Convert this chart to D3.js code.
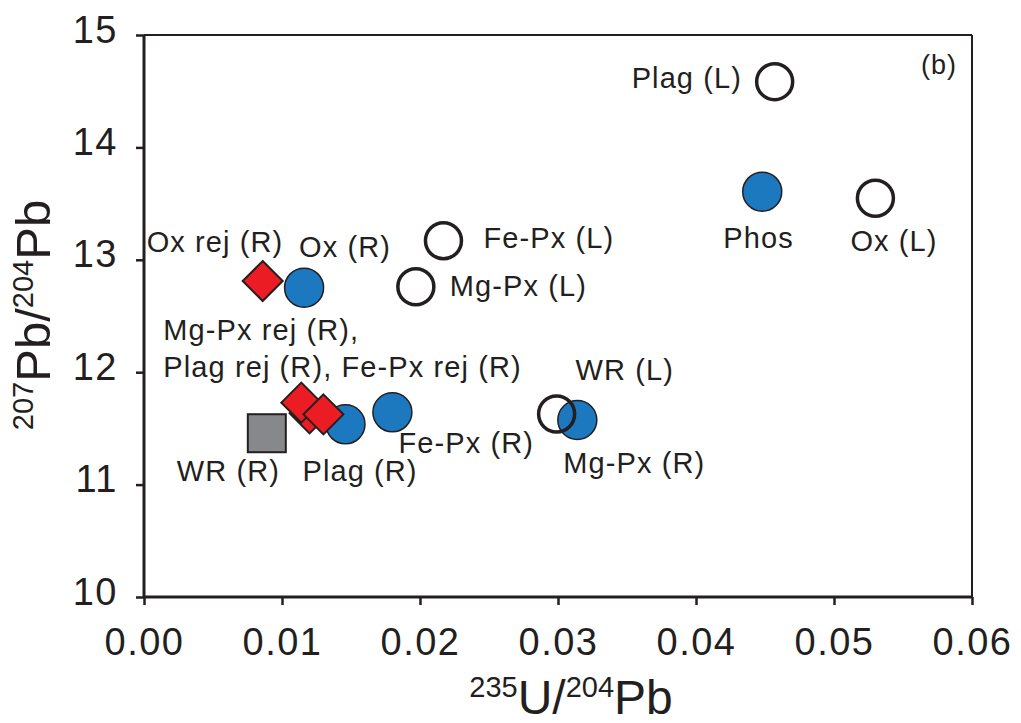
<!DOCTYPE html>
<html>
<head>
<meta charset="utf-8">
<script src="https://cdn.jsdelivr.net/npm/d3@7"></script>
<style>
  html, body { margin: 0; padding: 0; background: #fff; }
  svg { display: block; font-family: "Liberation Sans", Arial, Helvetica, sans-serif; }
</style>
</head>
<body>
<svg id="chart" width="1021" height="723"></svg>
<script>
// ---- data ----
const xTicks = [0.00, 0.01, 0.02, 0.03, 0.04, 0.05, 0.06];
const yTicks = [10, 11, 12, 13, 14, 15];

// Leachates (L): open circles
const leachNames = ["Plag (L)", "Ox (L)", "Fe-Px (L)", "Mg-Px (L)", "WR (L)"];
const leachX = [0.0457, 0.0530, 0.0217, 0.0197, 0.0299];
const leachY = [14.585, 13.547, 13.170, 12.761, 11.628];

// Residues (R) and Phos: blue filled circles
const resNames = ["Phos", "Ox (R)", "Fe-Px (R)", "Plag (R)", "Mg-Px (R)"];
const resX = [0.0448, 0.0116, 0.0180, 0.0146, 0.0314];
const resY = [13.606, 12.752, 11.643, 11.536, 11.575];

// Rejected residues: red diamonds (draw order: back to front)
const rejNames = ["Fe-Px rej (R)", "Ox rej (R)", "Mg-Px rej (R)", "Plag rej (R)"];
const rejX = [0.0120, 0.0086, 0.0114, 0.0130];
const rejY = [11.634, 12.811, 11.729, 11.625];

// Whole rock residue: grey square
const wrNames = ["WR (R)"];
const wrX = [0.0089];
const wrY = [11.457];

// Text labels: text, attached point (x,y data), pixel offset of text start/baseline
const labelText = ["Plag (L)", "Ox (L)", "Fe-Px (L)", "Mg-Px (L)", "WR (L)",
  "Phos", "Ox (R)", "Fe-Px (R)", "Plag (R)", "Mg-Px (R)",
  "Ox rej (R)", "Mg-Px rej (R),", "Plag rej (R), Fe-Px rej (R)", "WR (R)"];
const labelX = [0.0457, 0.0530, 0.0217, 0.0197, 0.0299,
  0.0448, 0.0116, 0.0180, 0.0146, 0.0314,
  0.0086, 0.0114, 0.0114, 0.0089];
const labelY = [14.585, 13.547, 13.170, 12.761, 11.628,
  13.606, 12.752, 11.643, 11.536, 11.575,
  12.811, 11.729, 11.729, 11.457];
const labelDx = [-143, -25, 40, 34, 19, -39, -5, 6, -43, -14, -116, -138, -138, -90];
const labelDy = [6, 53, 7, 9, -34, 56, -31, 41, 57, 53, -29, -63, -26, 48];

// ---- chart ----
const svg = d3.select("#chart");
const x = d3.scaleLinear().domain([0, 0.06]).range([144, 972]);
const y = d3.scaleLinear().domain([10, 15]).range([597, 35]);
const ink = "#231f20";

// frame (top & right thinner)
svg.append("line").attr("x1", x(0)).attr("x2", x(0.06)).attr("y1", y(15)).attr("y2", y(15))
  .attr("stroke", ink).attr("stroke-width", 2);
svg.append("line").attr("x1", x(0.06)).attr("x2", x(0.06)).attr("y1", y(15)).attr("y2", y(10))
  .attr("stroke", ink).attr("stroke-width", 2);

// axes
const xAxis = d3.axisBottom(x).tickValues(xTicks).tickSize(8).tickPadding(20).tickFormat(d3.format(".2f"));
const yAxis = d3.axisLeft(y).tickValues(yTicks).tickSize(8).tickPadding(19).tickFormat(d3.format("d"));

const gx = svg.append("g").attr("transform", `translate(0,${y(10)})`).call(xAxis);
const gy = svg.append("g").attr("transform", `translate(${x(0)},0)`).call(yAxis);
[gx, gy].forEach(g => {
  g.select(".domain").attr("stroke", ink).attr("stroke-width", 3);
  g.selectAll(".tick line").attr("stroke", ink).attr("stroke-width", 2.5);
  g.selectAll(".tick text").attr("fill", ink).style("font-size", "38px").style("letter-spacing", "1.5px")
    .style("font-family", "'Liberation Sans', Arial, sans-serif");
});
gx.select(".domain").attr("d", `M${x(0)},0H${x(0.06)}`);
gy.select(".domain").attr("d", `M0,${y(10)}V${y(15)}`);
gx.selectAll(".tick text").attr("dy", "0.71em").attr("y", 31);
gy.selectAll(".tick text").attr("dy", "0").attr("y", 7).attr("x", -26);

// axis titles
const xt = svg.append("text").attr("x", 571).attr("y", 714).attr("text-anchor", "middle")
  .attr("fill", ink).style("font-size", "48px");
xt.append("tspan").text("235").style("font-size", "29px").attr("dy", "-17");
xt.append("tspan").text("U/").attr("dy", "17");
xt.append("tspan").text("204").style("font-size", "29px").attr("dy", "-17");
xt.append("tspan").text("Pb").attr("dy", "17");

const yt = svg.append("text").attr("transform", "translate(50,315) rotate(-90)").attr("text-anchor", "middle")
  .attr("fill", ink).style("font-size", "49px");
yt.append("tspan").text("207").style("font-size", "29px").attr("dy", "-17");
yt.append("tspan").text("Pb/").attr("dy", "17");
yt.append("tspan").text("204").style("font-size", "29px").attr("dy", "-17");
yt.append("tspan").text("Pb").attr("dy", "17");

// panel label
svg.append("text").attr("x", 921).attr("y", 74).attr("fill", ink)
  .style("font-size", "27px").style("letter-spacing", "1px").text("(b)");

// marks
const wrData = wrX.map((d, i) => ({ x: d, y: wrY[i], n: wrNames[i] }));
const resData = resX.map((d, i) => ({ x: d, y: resY[i], n: resNames[i] }));
const rejData = rejX.map((d, i) => ({ x: d, y: rejY[i], n: rejNames[i] }));
const leachData = leachX.map((d, i) => ({ x: d, y: leachY[i], n: leachNames[i] }));

const side = 38;
svg.append("g").selectAll("rect").data(wrData).join("rect")
  .attr("x", d => x(d.x) - side / 2).attr("y", d => y(d.y) - side / 2)
  .attr("width", side).attr("height", side)
  .attr("fill", "#87888b").attr("stroke", ink).attr("stroke-width", 2);

svg.append("g").selectAll("circle").data(resData).join("circle")
  .attr("cx", d => x(d.x)).attr("cy", d => y(d.y)).attr("r", 19.5)
  .attr("fill", "#1c78bf").attr("stroke", ink).attr("stroke-width", 1.5);

const dia = 20;
svg.append("g").selectAll("path").data(rejData).join("path")
  .attr("d", d => { const cx = x(d.x), cy = y(d.y);
    return `M${cx},${cy - dia}L${cx + dia},${cy}L${cx},${cy + dia}L${cx - dia},${cy}Z`; })
  .attr("fill", "#ec1c24").attr("stroke", ink).attr("stroke-width", 2).attr("stroke-linejoin", "miter");

svg.append("g").selectAll("circle").data(leachData).join("circle")
  .attr("cx", d => x(d.x)).attr("cy", d => y(d.y)).attr("r", 18)
  .attr("fill", "none").attr("stroke", ink).attr("stroke-width", 3.5);

// labels
const labData = labelText.map((t, i) => ({ t, x: labelX[i], y: labelY[i], dx: labelDx[i], dy: labelDy[i] }));
svg.append("g").selectAll("text").data(labData).join("text")
  .attr("x", d => x(d.x) + d.dx).attr("y", d => y(d.y) + d.dy)
  .attr("fill", ink).style("font-size", "29px").style("letter-spacing", "1.1px")
  .text(d => d.t);
</script>
</body>
</html>
